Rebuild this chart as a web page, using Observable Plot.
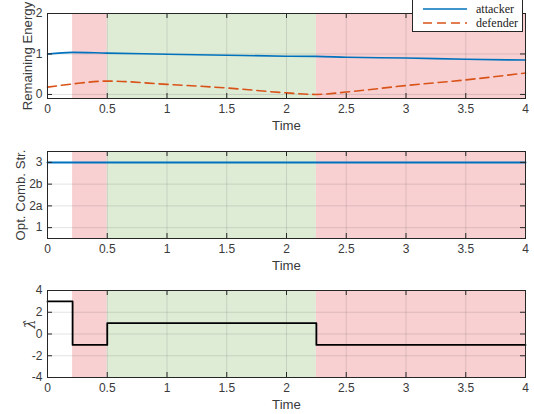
<!DOCTYPE html>
<html>
<head>
<meta charset="utf-8">
<script src="https://cdn.jsdelivr.net/npm/d3@7"></script>
<script src="https://cdn.jsdelivr.net/npm/@observablehq/plot@0.6"></script>
<style>
  body { margin: 0; background: #fff; }
  #wrap { position: relative; width: 534px; height: 414px; overflow: hidden; font-family: "Liberation Sans", Arial, sans-serif; }
  #wrap > svg { position: absolute; left: 0; }
  #legend { position: absolute; left: 412px; top: -6px; width: 111px; height: 38px; border: 1px solid #262626; background: #fff; box-sizing: border-box; }
  #legend svg { position: absolute; left: 0; top: 0; overflow: visible; }
</style>
</head>
<body>
<div id="wrap"></div>
<script>
// ---- data ----
const xTicks = [0, 0.5, 1, 1.5, 2, 2.5, 3, 3.5, 4];
const phaseStart = [0.21, 0.5, 2.25];
const phaseEnd = [0.5, 2.25, 4];
const phaseKind = ["red", "green", "red"];

const energyTime = [0, 0.21, 0.5, 1, 1.5, 2, 2.25, 2.5, 3, 3.5, 4];
const attackerEnergy = [1.0, 1.04, 1.02, 0.995, 0.97, 0.945, 0.94, 0.92, 0.9, 0.87, 0.85];
const defenderEnergy = [0.18, 0.26, 0.33, 0.25, 0.16, 0.04, 0.0, 0.06, 0.22, 0.36, 0.53];
const energyTicks = [0, 1, 2];

const strategyLevels = ["1", "2a", "2b", "3"];
const strategyTime = [0, 4];
const strategy = ["3", "3"];

const lambdaTime = [0, 0.21, 0.5, 2.25, 4];
const lambdaValue = [3, -1, 1, -1, -1];
const lambdaTicks = [-4, -2, 0, 2, 4];

// ---- helpers ----
const W = 534, ML = 47, MR = 9;
const axisColor = "#262626";
const phases = phaseStart.map((s, i) => ({x1: s, x2: phaseEnd[i], kind: phaseKind[i]}));
const fillOf = {red: "#f8d0d2", green: "#deecd6"};

function panel({top, height, marginTop, marginBottom, yDomain, yTicks, yFormat, ylabel, ylabelX, ylabelFont, marks}) {
  const ph = height - marginTop - marginBottom;
  const pw = W - ML - MR;
  const svg = Plot.plot({
    width: W, height, marginLeft: ML, marginRight: MR, marginTop, marginBottom,
    style: {fontFamily: '"Liberation Sans", Arial, sans-serif', fontSize: "12px", color: "#333", background: "transparent", overflow: "visible"},
    x: {domain: [0, 4]},
    y: {domain: yDomain},
    marks: [
      Plot.rect(phases, {x1: "x1", x2: "x2", fill: d => fillOf[d.kind]}),
      Plot.gridX(xTicks, {stroke: axisColor, strokeOpacity: 0.13}),
      Plot.gridY(yTicks, {stroke: axisColor, strokeOpacity: 0.13}),
      ...marks,
      Plot.tickX(xTicks, {x: d => d, insetTop: ph - 5, stroke: axisColor}),
      Plot.tickX(xTicks, {x: d => d, insetBottom: ph - 5, stroke: axisColor}),
      Plot.tickY(yTicks, {y: d => d, insetRight: pw - 5, stroke: axisColor}),
      Plot.tickY(yTicks, {y: d => d, insetLeft: pw - 5, stroke: axisColor}),
      Plot.frame({stroke: axisColor, strokeWidth: 1}),
      Plot.axisX(xTicks, {tickSize: 0, tickPadding: 6, label: null, tickFormat: d => String(d), fill: "#3a3a3a", fontSize: 12}),
      Plot.axisY(yTicks, {tickSize: 0, tickPadding: 5, label: null, tickFormat: yFormat, fill: "#3a3a3a", fontSize: 12}),
      Plot.text(["Time"], {frameAnchor: "bottom", dy: 31, fill: "#3a3a3a", fontSize: 13.2}),
      Plot.text([ylabel], {frameAnchor: "left", dx: ylabelX - ML, rotate: -90, textAnchor: "middle", lineAnchor: "middle", fill: "#3a3a3a", fontSize: 13.2, ...(ylabelFont || {})})
    ]
  });
  svg.style.top = top + "px";
  document.getElementById("wrap").appendChild(svg);
}

// Panel 1: Remaining energy
const energyRows = energyTime.map((t, i) => ({t, attacker: attackerEnergy[i], defender: defenderEnergy[i]}));
panel({
  top: 0, height: 140, marginTop: 13, marginBottom: 42,
  yDomain: [-0.1, 2], yTicks: energyTicks, yFormat: d => String(d),
  ylabel: "Remaining Energy", ylabelX: 27,
  marks: [
    Plot.line(energyRows, {x: "t", y: "attacker", stroke: "#0072BD", strokeWidth: 1.6, curve: "monotone-x"}),
    Plot.line(energyRows, {x: "t", y: "defender", stroke: "#D95319", strokeWidth: 1.6, strokeDasharray: "9,5", curve: "monotone-x"})
  ]
});

// Panel 2: Optimal combat strategy
const strategyRows = strategyTime.map((t, i) => ({t, level: strategyLevels.indexOf(strategy[i]) + 1}));
panel({
  top: 140, height: 140, marginTop: 11, marginBottom: 42,
  yDomain: [0.5, 4.5], yTicks: strategyLevels.map((_, i) => i + 1), yFormat: d => strategyLevels[d - 1],
  ylabel: "Opt. Comb. Str.", ylabelX: 20,
  marks: [
    Plot.line(strategyRows, {x: "t", y: "level", stroke: "#0072BD", strokeWidth: 2})
  ]
});

// Panel 3: lambda hat
const lambdaRows = lambdaTime.map((t, i) => ({t, v: lambdaValue[i]}));
panel({
  top: 280, height: 134, marginTop: 10, marginBottom: 37,
  yDomain: [-4, 4], yTicks: lambdaTicks, yFormat: d => String(d),
  ylabel: "\u03BB\u0302", ylabelX: 30, ylabelFont: {fontFamily: '"DejaVu Serif", serif', fontStyle: "italic", fontSize: 14, dy: -10},
  marks: [
    Plot.line(lambdaRows, {x: "t", y: "v", stroke: "#000", strokeWidth: 1.8, curve: "step-after"})
  ]
});

// Legend
const legend = document.createElement("div");
legend.id = "legend";
legend.innerHTML = `<svg width="109" height="36" xmlns="http://www.w3.org/2000/svg">
  <line x1="10" x2="54" y1="14" y2="14" stroke="#0072BD" stroke-width="1.6"/>
  <line x1="10" x2="54" y1="28" y2="28" stroke="#D95319" stroke-width="1.6" stroke-dasharray="9,5"/>
  <text x="63" y="18" font-family="'Liberation Serif', 'Times New Roman', serif" font-size="12" fill="#222">attacker</text>
  <text x="63" y="32" font-family="'Liberation Serif', 'Times New Roman', serif" font-size="12" fill="#222">defender</text>
</svg>`;
document.getElementById("wrap").appendChild(legend);
</script>
</body>
</html>
